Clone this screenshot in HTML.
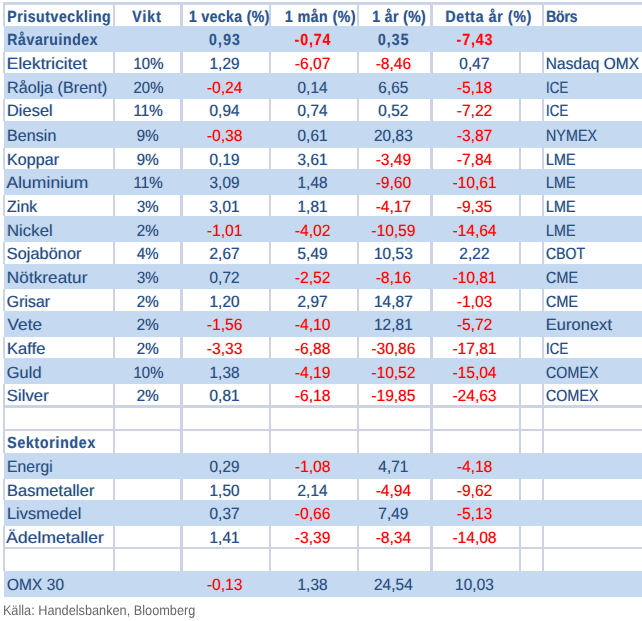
<!DOCTYPE html>
<html lang="sv"><head><meta charset="utf-8"><title>Prisutveckling</title>
<style>
html,body{margin:0;padding:0;background:#fff}
body{width:642px;height:621px;position:relative;overflow:hidden;font-family:"Liberation Sans",sans-serif;text-rendering:geometricPrecision}
svg{position:absolute;left:0;top:0}
#t span{text-shadow:-0.75px 0 0.4px rgba(225,140,100,0.55),0.75px 0 0.4px rgba(90,190,255,0.55);position:absolute;left:0;top:0;height:20px;line-height:20px;font-size:16.3px;color:#23508a;white-space:nowrap;transform-origin:0 0}
#t span.b{font-weight:bold;color:#2b5893}
#t span.r{color:#ff0000;text-shadow:-0.7px 0 0.4px rgba(255,150,90,0.45),0.7px 0 0.4px rgba(255,110,160,0.45)}
#t span.b.r{color:#ff0a0a}
#src{position:absolute;left:0;top:0;font-size:14.0px;line-height:16px;height:16px;color:#686868;white-space:nowrap;transform-origin:0 0;transform:translate(2.88px,602px) scaleX(0.9089)}
</style></head><body>
<svg width="642" height="621" viewBox="0 0 642 621">
<rect x="3" y="2" width="639" height="2.9" fill="#ccd3e5"/>
<rect x="3" y="2" width="2" height="595" fill="#ccd3e5"/>
<rect x="113" y="4.8" width="2" height="592.2" fill="#ccd3e5"/>
<rect x="180" y="4.8" width="3" height="592.2" fill="#ccd3e5"/>
<rect x="269" y="4.8" width="2" height="592.2" fill="#ccd3e5"/>
<rect x="357" y="4.8" width="2" height="592.2" fill="#ccd3e5"/>
<rect x="430" y="4.8" width="3" height="592.2" fill="#ccd3e5"/>
<rect x="519" y="30" width="2" height="567" fill="#ccd3e5"/>
<rect x="542" y="4.8" width="2" height="592.2" fill="#ccd3e5"/>
<rect x="3" y="405" width="639" height="3" fill="#ccd3e5"/>
<rect x="3" y="429" width="639" height="2" fill="#ccd3e5"/>
<rect x="3" y="547" width="639" height="2" fill="#ccd3e5"/>
<rect x="0" y="26.0" width="4" height="26.00" fill="#fff"/>
<rect x="4" y="26.0" width="638" height="26.00" fill="#c5d9f1"/>
<rect x="0" y="73.0" width="4" height="26.00" fill="#fff"/>
<rect x="4" y="73.0" width="638" height="26.00" fill="#c5d9f1"/>
<rect x="0" y="121.05" width="4" height="26.85" fill="#fff"/>
<rect x="4" y="121.05" width="638" height="26.85" fill="#c5d9f1"/>
<rect x="0" y="169.05" width="4" height="25.95" fill="#fff"/>
<rect x="4" y="169.05" width="638" height="25.95" fill="#c5d9f1"/>
<rect x="0" y="216.05" width="4" height="25.95" fill="#fff"/>
<rect x="4" y="216.05" width="638" height="25.95" fill="#c5d9f1"/>
<rect x="0" y="264.05" width="4" height="24.95" fill="#fff"/>
<rect x="4" y="264.05" width="638" height="24.95" fill="#c5d9f1"/>
<rect x="0" y="311.05" width="4" height="25.95" fill="#fff"/>
<rect x="4" y="311.05" width="638" height="25.95" fill="#c5d9f1"/>
<rect x="0" y="358.05" width="4" height="25.95" fill="#fff"/>
<rect x="4" y="358.05" width="638" height="25.95" fill="#c5d9f1"/>
<rect x="0" y="453.05" width="4" height="25.95" fill="#fff"/>
<rect x="4" y="453.05" width="638" height="25.95" fill="#c5d9f1"/>
<rect x="0" y="500.05" width="4" height="25.95" fill="#fff"/>
<rect x="4" y="500.05" width="638" height="25.95" fill="#c5d9f1"/>
<rect x="0" y="571.05" width="4" height="25.95" fill="#fff"/>
<rect x="4" y="571.05" width="638" height="25.95" fill="#c5d9f1"/>
</svg>
<div id="t" role="table">
<div role="row">
<span class="b" style="transform:translate(7.33px,7px) scaleX(0.8700);letter-spacing:0.580px">Prisutveckling</span>
<span class="b" style="transform:translate(132.33px,7px) scaleX(0.8700);letter-spacing:1.085px">Vikt</span>
<span class="b" style="transform:translate(188.95px,7px) scaleX(0.8700);letter-spacing:0.388px">1 vecka (%)</span>
<span class="b" style="transform:translate(284.95px,7px) scaleX(0.8700);letter-spacing:0.539px">1 mån (%)</span>
<span class="b" style="transform:translate(372.35px,7px) scaleX(0.8700);letter-spacing:0.379px">1 år (%)</span>
<span class="b" style="transform:translate(445.48px,7px) scaleX(0.8700);letter-spacing:0.753px">Detta år (%)</span>
<span class="b" style="transform:translate(546.18px,7px) scaleX(0.8700);letter-spacing:-0.335px">Börs</span>
</div>
<div role="row">
<span class="b" style="transform:translate(7.33px,30px) scaleX(0.8700);letter-spacing:0.602px">Råvaruindex</span>
<span class="b" style="transform:translate(209.10px,30px) scaleX(0.8700);letter-spacing:1.272px">0,93</span>
<span class="b r" style="transform:translate(294.59px,30px) scaleX(0.8700);letter-spacing:0.989px">-0,74</span>
<span class="b" style="transform:translate(377.90px,30px) scaleX(0.8700);letter-spacing:1.218px">0,35</span>
<span class="b r" style="transform:translate(456.49px,30px) scaleX(0.8700);letter-spacing:1.064px">-7,43</span>
</div>
<div role="row">
<span style="transform:translate(6.86px,54px) scaleX(1.0680)">Elektricitet</span>
<span style="transform:translate(133.42px,54px) scaleX(0.9256)">10%</span>
<span style="transform:translate(209.45px,54px) scaleX(0.9550)">1,29</span>
<span class="r" style="transform:translate(294.86px,54px) scaleX(0.9550)">-6,07</span>
<span class="r" style="transform:translate(375.66px,54px) scaleX(0.9550)">-8,46</span>
<span style="transform:translate(459.35px,54px) scaleX(0.9550)">0,47</span>
<span style="transform:translate(545.86px,54px) scaleX(0.9547)">Nasdaq OMX</span>
</div>
<div role="row">
<span style="transform:translate(6.95px,78px) scaleX(0.9994)">Råolja (Brent)</span>
<span style="transform:translate(133.45px,78px) scaleX(0.9247)">20%</span>
<span class="r" style="transform:translate(206.86px,78px) scaleX(0.9550)">-0,24</span>
<span style="transform:translate(297.45px,78px) scaleX(0.9550)">0,14</span>
<span style="transform:translate(378.25px,78px) scaleX(0.9550)">6,65</span>
<span class="r" style="transform:translate(456.76px,78px) scaleX(0.9550)">-5,18</span>
<span style="transform:translate(546.10px,78px) scaleX(0.8193)">ICE</span>
</div>
<div role="row">
<span style="transform:translate(6.93px,101px) scaleX(1.0133)">Diesel</span>
<span style="transform:translate(133.40px,101px) scaleX(0.9415)">11%</span>
<span style="transform:translate(209.45px,101px) scaleX(0.9550)">0,94</span>
<span style="transform:translate(297.45px,101px) scaleX(0.9550)">0,74</span>
<span style="transform:translate(378.25px,101px) scaleX(0.9550)">0,52</span>
<span class="r" style="transform:translate(456.76px,101px) scaleX(0.9550)">-7,22</span>
<span style="transform:translate(546.10px,101px) scaleX(0.8193)">ICE</span>
</div>
<div role="row">
<span style="transform:translate(6.95px,126px) scaleX(0.9939)">Bensin</span>
<span style="transform:translate(136.76px,126px) scaleX(0.9341)">9%</span>
<span class="r" style="transform:translate(206.86px,126px) scaleX(0.9550)">-0,38</span>
<span style="transform:translate(297.45px,126px) scaleX(0.9550)">0,61</span>
<span style="transform:translate(373.92px,126px) scaleX(0.9550)">20,83</span>
<span class="r" style="transform:translate(456.76px,126px) scaleX(0.9550)">-3,87</span>
<span style="transform:translate(545.95px,126px) scaleX(0.8850)">NYMEX</span>
</div>
<div role="row">
<span style="transform:translate(6.96px,150px) scaleX(0.9923)">Koppar</span>
<span style="transform:translate(136.76px,150px) scaleX(0.9341)">9%</span>
<span style="transform:translate(209.45px,150px) scaleX(0.9550)">0,19</span>
<span style="transform:translate(297.45px,150px) scaleX(0.9550)">3,61</span>
<span class="r" style="transform:translate(375.66px,150px) scaleX(0.9550)">-3,49</span>
<span class="r" style="transform:translate(456.76px,150px) scaleX(0.9550)">-7,84</span>
<span style="transform:translate(545.95px,150px) scaleX(0.8850)">LME</span>
</div>
<div role="row">
<span style="transform:translate(6.40px,173px) scaleX(1.0805)">Aluminium</span>
<span style="transform:translate(133.40px,173px) scaleX(0.9415)">11%</span>
<span style="transform:translate(209.45px,173px) scaleX(0.9550)">3,09</span>
<span style="transform:translate(297.45px,173px) scaleX(0.9550)">1,48</span>
<span class="r" style="transform:translate(375.66px,173px) scaleX(0.9550)">-9,60</span>
<span class="r" style="transform:translate(452.43px,173px) scaleX(0.9550)">-10,61</span>
<span style="transform:translate(545.95px,173px) scaleX(0.8850)">LME</span>
</div>
<div role="row">
<span style="transform:translate(7.12px,197px) scaleX(0.9807)">Zink</span>
<span style="transform:translate(136.92px,197px) scaleX(0.9273)">3%</span>
<span style="transform:translate(209.45px,197px) scaleX(0.9550)">3,01</span>
<span style="transform:translate(297.45px,197px) scaleX(0.9550)">1,81</span>
<span class="r" style="transform:translate(375.66px,197px) scaleX(0.9550)">-4,17</span>
<span class="r" style="transform:translate(456.76px,197px) scaleX(0.9550)">-9,35</span>
<span style="transform:translate(545.95px,197px) scaleX(0.8850)">LME</span>
</div>
<div role="row">
<span style="transform:translate(6.90px,221px) scaleX(1.0354)">Nickel</span>
<span style="transform:translate(136.69px,221px) scaleX(0.9375)">2%</span>
<span class="r" style="transform:translate(206.86px,221px) scaleX(0.9550)">-1,01</span>
<span class="r" style="transform:translate(294.86px,221px) scaleX(0.9550)">-4,02</span>
<span class="r" style="transform:translate(371.33px,221px) scaleX(0.9550)">-10,59</span>
<span class="r" style="transform:translate(452.43px,221px) scaleX(0.9550)">-14,64</span>
<span style="transform:translate(545.95px,221px) scaleX(0.8850)">LME</span>
</div>
<div role="row">
<span style="transform:translate(6.86px,244px) scaleX(1.0045)">Sojabönor</span>
<span style="transform:translate(137.00px,244px) scaleX(0.9239)">4%</span>
<span style="transform:translate(209.45px,244px) scaleX(0.9550)">2,67</span>
<span style="transform:translate(297.45px,244px) scaleX(0.9550)">5,49</span>
<span style="transform:translate(373.92px,244px) scaleX(0.9550)">10,53</span>
<span style="transform:translate(459.35px,244px) scaleX(0.9550)">2,22</span>
<span style="transform:translate(545.99px,244px) scaleX(0.8680)">CBOT</span>
</div>
<div role="row">
<span style="transform:translate(6.87px,268px) scaleX(1.0599)">Nötkreatur</span>
<span style="transform:translate(136.92px,268px) scaleX(0.9273)">3%</span>
<span style="transform:translate(209.45px,268px) scaleX(0.9550)">0,72</span>
<span class="r" style="transform:translate(294.86px,268px) scaleX(0.9550)">-2,52</span>
<span class="r" style="transform:translate(375.66px,268px) scaleX(0.9550)">-8,16</span>
<span class="r" style="transform:translate(452.43px,268px) scaleX(0.9550)">-10,81</span>
<span style="transform:translate(545.98px,268px) scaleX(0.8870)">CME</span>
</div>
<div role="row">
<span style="transform:translate(6.80px,292px) scaleX(0.9759)">Grisar</span>
<span style="transform:translate(136.69px,292px) scaleX(0.9375)">2%</span>
<span style="transform:translate(209.45px,292px) scaleX(0.9550)">1,20</span>
<span style="transform:translate(297.45px,292px) scaleX(0.9550)">2,97</span>
<span style="transform:translate(373.92px,292px) scaleX(0.9550)">14,87</span>
<span class="r" style="transform:translate(456.76px,292px) scaleX(0.9550)">-1,03</span>
<span style="transform:translate(545.98px,292px) scaleX(0.8870)">CME</span>
</div>
<div role="row">
<span style="transform:translate(7.50px,315px) scaleX(1.0638)">Vete</span>
<span style="transform:translate(136.69px,315px) scaleX(0.9375)">2%</span>
<span class="r" style="transform:translate(206.86px,315px) scaleX(0.9550)">-1,56</span>
<span class="r" style="transform:translate(294.86px,315px) scaleX(0.9550)">-4,10</span>
<span style="transform:translate(373.92px,315px) scaleX(0.9550)">12,81</span>
<span class="r" style="transform:translate(456.76px,315px) scaleX(0.9550)">-5,72</span>
<span style="transform:translate(545.78px,315px) scaleX(1.0158)">Euronext</span>
</div>
<div role="row">
<span style="transform:translate(6.91px,339px) scaleX(1.0240)">Kaffe</span>
<span style="transform:translate(136.69px,339px) scaleX(0.9375)">2%</span>
<span class="r" style="transform:translate(206.86px,339px) scaleX(0.9550)">-3,33</span>
<span class="r" style="transform:translate(294.86px,339px) scaleX(0.9550)">-6,88</span>
<span class="r" style="transform:translate(371.33px,339px) scaleX(0.9550)">-30,86</span>
<span class="r" style="transform:translate(452.43px,339px) scaleX(0.9550)">-17,81</span>
<span style="transform:translate(546.10px,339px) scaleX(0.8193)">ICE</span>
</div>
<div role="row">
<span style="transform:translate(6.78px,363px) scaleX(1.0117)">Guld</span>
<span style="transform:translate(133.42px,363px) scaleX(0.9256)">10%</span>
<span style="transform:translate(209.45px,363px) scaleX(0.9550)">1,38</span>
<span class="r" style="transform:translate(294.86px,363px) scaleX(0.9550)">-4,19</span>
<span class="r" style="transform:translate(371.33px,363px) scaleX(0.9550)">-10,52</span>
<span class="r" style="transform:translate(452.43px,363px) scaleX(0.9550)">-15,04</span>
<span style="transform:translate(545.98px,363px) scaleX(0.8793)">COMEX</span>
</div>
<div role="row">
<span style="transform:translate(6.84px,386px) scaleX(1.0298)">Silver</span>
<span style="transform:translate(136.69px,386px) scaleX(0.9375)">2%</span>
<span style="transform:translate(209.45px,386px) scaleX(0.9550)">0,81</span>
<span class="r" style="transform:translate(294.86px,386px) scaleX(0.9550)">-6,18</span>
<span class="r" style="transform:translate(371.33px,386px) scaleX(0.9550)">-19,85</span>
<span class="r" style="transform:translate(452.43px,386px) scaleX(0.9550)">-24,63</span>
<span style="transform:translate(545.98px,386px) scaleX(0.8793)">COMEX</span>
</div>
<div role="row">
<span class="b" style="transform:translate(7.25px,433px) scaleX(0.8700);letter-spacing:0.801px">Sektorindex</span>
</div>
<div role="row">
<span style="transform:translate(6.98px,457px) scaleX(0.9739)">Energi</span>
<span style="transform:translate(209.45px,457px) scaleX(0.9550)">0,29</span>
<span class="r" style="transform:translate(294.86px,457px) scaleX(0.9550)">-1,08</span>
<span style="transform:translate(378.25px,457px) scaleX(0.9550)">4,71</span>
<span class="r" style="transform:translate(456.76px,457px) scaleX(0.9550)">-4,18</span>
</div>
<div role="row">
<span style="transform:translate(6.92px,481px) scaleX(1.0190)">Basmetaller</span>
<span style="transform:translate(209.45px,481px) scaleX(0.9550)">1,50</span>
<span style="transform:translate(297.45px,481px) scaleX(0.9550)">2,14</span>
<span class="r" style="transform:translate(375.66px,481px) scaleX(0.9550)">-4,94</span>
<span class="r" style="transform:translate(456.76px,481px) scaleX(0.9550)">-9,62</span>
</div>
<div role="row">
<span style="transform:translate(6.93px,504px) scaleX(1.0153)">Livsmedel</span>
<span style="transform:translate(209.45px,504px) scaleX(0.9550)">0,37</span>
<span class="r" style="transform:translate(294.86px,504px) scaleX(0.9550)">-0,66</span>
<span style="transform:translate(378.25px,504px) scaleX(0.9550)">7,49</span>
<span class="r" style="transform:translate(456.76px,504px) scaleX(0.9550)">-5,13</span>
</div>
<div role="row">
<span style="transform:translate(6.30px,528px) scaleX(1.0776)">Ädelmetaller</span>
<span style="transform:translate(209.45px,528px) scaleX(0.9550)">1,41</span>
<span class="r" style="transform:translate(294.86px,528px) scaleX(0.9550)">-3,39</span>
<span class="r" style="transform:translate(375.66px,528px) scaleX(0.9550)">-8,34</span>
<span class="r" style="transform:translate(452.43px,528px) scaleX(0.9550)">-14,08</span>
</div>
<div role="row">
<span style="transform:translate(6.90px,575px) scaleX(0.9578)">OMX 30</span>
<span class="r" style="transform:translate(206.86px,575px) scaleX(0.9550)">-0,13</span>
<span style="transform:translate(297.45px,575px) scaleX(0.9550)">1,38</span>
<span style="transform:translate(373.92px,575px) scaleX(0.9550)">24,54</span>
<span style="transform:translate(455.02px,575px) scaleX(0.9550)">10,03</span>
</div>
</div>
<div id="src">Källa: Handelsbanken, Bloomberg</div>
</body></html>
